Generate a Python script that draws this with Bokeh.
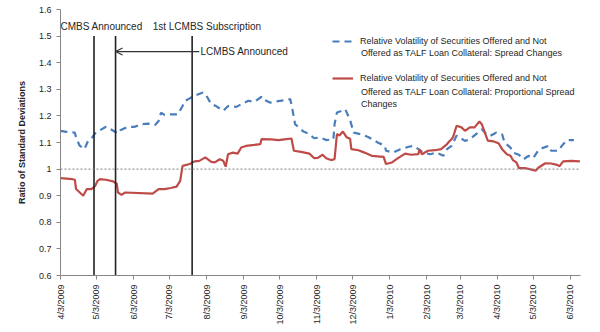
import math
from datetime import datetime

from bokeh.plotting import figure
from bokeh.models import (ColumnDataSource, Range1d, FixedTicker, CustomJSTickFormatter,
                          Span, Label, Arrow, OpenHead, Legend, LegendItem)
from bokeh.embed import file_html
from bokeh.resources import INLINE

# ---------------- data ----------------
spread_dates = [
    "4/3/2009", "4/8/2009", "4/15/2009", "4/16/2009", "4/19/2009", "4/23/2009", "4/26/2009",
    "4/29/2009", "5/3/2009", "5/6/2009", "5/11/2009", "5/15/2009", "5/21/2009", "5/23/2009",
    "5/29/2009", "6/4/2009", "6/10/2009", "6/15/2009", "6/21/2009", "6/24/2009", "6/26/2009",
    "6/29/2009", "7/5/2009", "7/10/2009", "7/14/2009", "7/16/2009", "7/20/2009", "7/23/2009",
    "7/31/2009", "8/3/2009", "8/7/2009", "8/11/2009", "8/17/2009", "8/21/2009", "8/28/2009",
    "9/1/2009", "9/7/2009", "9/12/2009", "9/18/2009", "9/19/2009", "9/25/2009", "9/30/2009",
    "10/7/2009", "10/12/2009", "10/14/2009", "10/16/2009", "10/23/2009", "10/27/2009",
    "11/1/2009", "11/6/2009", "11/11/2009", "11/17/2009", "11/18/2009", "11/20/2009",
    "11/24/2009", "11/27/2009", "12/1/2009", "12/4/2009", "12/10/2009", "12/16/2009",
    "12/22/2009", "12/24/2009", "12/30/2009", "12/31/2009", "1/6/2010", "1/12/2010",
    "1/19/2010", "1/23/2010", "1/27/2010", "1/31/2010", "2/6/2010", "2/11/2010", "2/17/2010",
    "2/20/2010", "2/24/2010", "2/28/2010", "3/7/2010", "3/11/2010", "3/17/2010", "3/21/2010",
    "3/25/2010", "3/28/2010", "4/2/2010", "4/7/2010", "4/9/2010", "4/14/2010", "4/16/2010",
    "4/21/2010", "4/25/2010", "4/29/2010", "5/3/2010", "5/7/2010", "5/10/2010", "5/16/2010",
    "5/18/2010", "5/24/2010", "5/27/2010", "5/31/2010", "6/6/2010",
]
spread_values = [
    1.144, 1.140, 1.137, 1.119, 1.088, 1.075, 1.106,
    1.116, 1.141, 1.146, 1.159, 1.150, 1.134, 1.146,
    1.159, 1.159, 1.169, 1.171, 1.166, 1.181, 1.212,
    1.204, 1.206, 1.206, 1.237, 1.256, 1.266, 1.274,
    1.288, 1.275, 1.244, 1.237, 1.219, 1.237, 1.234,
    1.244, 1.257, 1.253, 1.272, 1.263, 1.250, 1.254,
    1.259, 1.263, 1.219, 1.169, 1.141, 1.134,
    1.116, 1.119, 1.109, 1.112, 1.169, 1.213,
    1.219, 1.225, 1.184, 1.137, 1.131, 1.121,
    1.106, 1.100, 1.088, 1.069, 1.062, 1.075,
    1.084, 1.087, 1.075, 1.062, 1.056, 1.062, 1.050,
    1.075, 1.088, 1.126, 1.106, 1.112, 1.134, 1.150,
    1.131, 1.125, 1.137, 1.131, 1.100, 1.081, 1.062,
    1.054, 1.037, 1.050, 1.041, 1.069, 1.078, 1.088,
    1.069, 1.069, 1.088, 1.109, 1.109,
]

prop_dates = [
    "4/3/2009", "4/13/2009", "4/15/2009", "4/16/2009", "4/22/2009", "4/25/2009", "4/29/2009",
    "5/2/2009", "5/4/2009", "5/6/2009", "5/11/2009", "5/17/2009", "5/20/2009", "5/21/2009",
    "5/24/2009", "5/27/2009", "6/19/2009", "6/24/2009", "6/29/2009", "7/4/2009", "7/9/2009",
    "7/12/2009", "7/14/2009", "7/20/2009", "7/24/2009", "7/28/2009", "8/2/2009", "8/7/2009",
    "8/10/2009", "8/14/2009", "8/17/2009", "8/19/2009", "8/21/2009", "8/25/2009", "8/29/2009",
    "9/1/2009", "9/5/2009", "9/12/2009", "9/17/2009", "9/18/2009", "9/26/2009", "10/2/2009",
    "10/7/2009", "10/13/2009", "10/15/2009", "10/21/2009", "10/28/2009", "11/1/2009",
    "11/4/2009", "11/8/2009", "11/11/2009", "11/15/2009", "11/18/2009", "11/20/2009",
    "11/22/2009", "11/25/2009", "11/28/2009", "12/1/2009", "12/2/2009", "12/8/2009",
    "12/13/2009", "12/19/2009", "12/29/2009", "12/31/2009", "1/5/2010", "1/10/2010",
    "1/16/2010", "1/21/2010", "1/27/2010", "1/28/2010", "1/30/2010", "2/4/2010", "2/10/2010",
    "2/15/2010", "2/20/2010", "2/21/2010", "2/24/2010", "2/25/2010", "2/28/2010", "3/4/2010",
    "3/7/2010", "3/11/2010", "3/15/2010", "3/19/2010", "3/21/2010", "3/24/2010", "3/26/2010",
    "3/31/2010", "4/4/2010", "4/7/2010", "4/11/2010", "4/14/2010", "4/16/2010", "4/19/2010",
    "4/21/2010", "4/26/2010", "4/30/2010", "5/5/2010", "5/7/2010", "5/13/2010", "5/18/2010",
    "5/23/2010", "5/25/2010", "5/28/2010", "6/4/2010", "6/11/2010",
]
prop_values = [
    0.966, 0.962, 0.960, 0.925, 0.900, 0.925, 0.925,
    0.937, 0.956, 0.962, 0.960, 0.954, 0.945, 0.912,
    0.903, 0.912, 0.908, 0.925, 0.925, 0.929, 0.934,
    0.956, 1.012, 1.019, 1.029, 1.031, 1.044, 1.027,
    1.025, 1.037, 1.031, 1.009, 1.056, 1.062, 1.058,
    1.081, 1.087, 1.091, 1.094, 1.113, 1.112, 1.109,
    1.112, 1.115, 1.069, 1.065, 1.058, 1.041,
    1.042, 1.054, 1.041, 1.034, 1.037, 1.132,
    1.126, 1.141, 1.120, 1.114, 1.075, 1.071,
    1.062, 1.050, 1.046, 1.019, 1.025, 1.041,
    1.058, 1.054, 1.056, 1.075, 1.056, 1.069, 1.071,
    1.075, 1.094, 1.100, 1.114, 1.120, 1.163, 1.157,
    1.144, 1.157, 1.157, 1.179, 1.169, 1.132, 1.107,
    1.104, 1.097, 1.075, 1.056, 1.050, 1.034, 1.025,
    1.004, 1.004, 1.000, 0.994, 1.004, 1.022, 1.021,
    1.016, 1.011, 1.029, 1.031, 1.029,
]

event_dates = ["5/1/2009", "5/19/2009", "7/22/2009"]
event_names = ["CMBS Announced", "LCMBS Announced", "1st LCMBS Subscription"]

x_tick_labels = ["4/3/2009", "5/3/2009", "6/3/2009", "7/3/2009", "8/3/2009", "9/3/2009",
                 "10/3/2009", "11/3/2009", "12/3/2009", "1/3/2010", "2/3/2010", "3/3/2010",
                 "4/3/2010", "5/3/2010", "6/3/2010"]
y_ticks = [0.6, 0.7, 0.8, 0.9, 1.0, 1.1, 1.2, 1.3, 1.4, 1.5, 1.6]

spread_label_lines = ["Relative Volatility of Securities Offered and Not",
                      "Offered as TALF Loan Collateral: Spread Changes"]
prop_label_lines = ["Relative Volatility of Securities Offered and Not",
                    "Offered as TALF Loan Collateral: Proportional Spread",
                    "Changes"]


def d(s):
    return datetime.strptime(s, "%m/%d/%Y")


def ms(dt):
    return (dt - datetime(1970, 1, 1)).total_seconds() * 1000.0


FONT = "Liberation Sans"
BLUE = "#4a7ebb"
RED = "#be4b48"
TXT = "#262626"

p = figure(width=600, height=332, x_axis_type="datetime",
           x_range=Range1d(d("4/3/2009"), datetime(2010, 6, 11, 12)),
           y_range=Range1d(0.6, 1.6),
           output_backend="svg", toolbar_location=None,
           min_border_left=60, min_border_right=20, min_border_top=9, min_border_bottom=57)
p.outline_line_color = None
p.xgrid.visible = False
p.ygrid.visible = False
p.background_fill_color = "white"
p.border_fill_color = "white"

src_s = ColumnDataSource(dict(x=[d(s) for s in spread_dates], y=spread_values))
src_p = ColumnDataSource(dict(x=[d(s) for s in prop_dates], y=prop_values))

# reference line at 1
p.add_layout(Span(location=1.0, dimension="width", line_color="#7f7f7f",
                  line_width=1, line_dash="2 2"))

r_blue = p.line("x", "y", source=src_s, line_color=BLUE, line_width=2.2, line_dash="7 5")
r_red = p.line("x", "y", source=src_p, line_color=RED, line_width=2.2)

# event lines
ev = [d(s) for s in event_dates]
p.segment(x0=ev, y0=[0.6] * len(ev), x1=ev, y1=[1.5] * len(ev),
          line_color="#222222", line_width=1.6)


def text(x, y, s, size="10px"):
    p.add_layout(Label(x=x, y=y, text=s, text_font=FONT, text_font_size=size,
                       text_baseline="middle", text_align="left", text_color=TXT))


# annotations
text(d("4/3/2009"), 1.535, event_names[0])
text(d("6/19/2009"), 1.535, event_names[2])
text(d("7/29/2009"), 1.441, event_names[1])
p.add_layout(Arrow(end=OpenHead(size=7, line_color="#333333", line_width=1.2),
                   x_start=d("7/28/2009"), y_start=1.442, x_end=d("5/19/2009"), y_end=1.442,
                   line_color="#333333", line_width=1.2))

# axes
p.yaxis.ticker = FixedTicker(ticks=y_ticks)
p.yaxis.formatter = CustomJSTickFormatter(code="return String(Math.round(tick*10)/10);")
p.yaxis.axis_label = "Ratio of Standard Deviations"
p.yaxis.axis_label_text_font = FONT
p.yaxis.axis_label_text_font_size = "9px"
p.yaxis.axis_label_text_font_style = "bold"
p.yaxis.axis_label_text_color = TXT
p.yaxis.axis_label_standoff = 9
p.xaxis.ticker = FixedTicker(ticks=[ms(d(s)) for s in x_tick_labels])
p.xaxis.formatter = CustomJSTickFormatter(
    code="const t = new Date(tick); return (t.getUTCMonth()+1) + '/' + t.getUTCDate() + '/' + t.getUTCFullYear();")
p.xaxis.major_label_orientation = math.pi / 2
for ax in (p.xaxis, p.yaxis):
    ax.axis_line_color = "#868686"
    ax.major_tick_line_color = "#868686"
    ax.major_tick_in = 0
    ax.major_tick_out = 4
    ax.minor_tick_line_color = None
    ax.major_label_text_font = FONT
    ax.major_label_text_font_size = "9px"
    ax.major_label_text_color = TXT
    ax.major_label_standoff = 5

# legend: glyph + first line via Legend, remaining lines as labels
legend = Legend(items=[LegendItem(label=spread_label_lines[0], renderers=[r_blue]),
                       LegendItem(label=prop_label_lines[0], renderers=[r_red])],
                location=(272, 191), orientation="vertical",
                label_text_font=FONT, label_text_font_size="9px", label_text_color=TXT,
                glyph_width=21, glyph_height=12, label_height=12, label_standoff=7, spacing=25,
                padding=0, margin=0, border_line_color=None, background_fill_alpha=0)
p.add_layout(legend)
legend_x = d("12/10/2009")
text(legend_x, 1.4346, spread_label_lines[1], "9px")
text(legend_x, 1.2917, prop_label_lines[1], "9px")
text(legend_x, 1.2466, prop_label_lines[2], "9px")

open("out.html", "w").write(file_html(p, INLINE))
